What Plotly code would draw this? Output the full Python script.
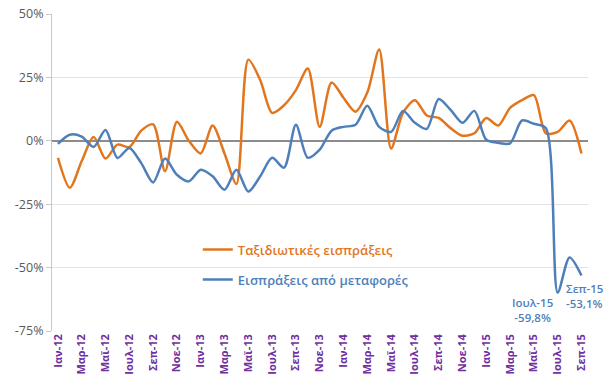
import plotly.graph_objects as go

# Monthly labels Jan-12 .. Sep-15
month_names = ["Ιαν", "Φεβ", "Μαρ", "Απρ", "Μαϊ", "Ιουν",
               "Ιουλ", "Αυγ", "Σεπ", "Οκτ", "Νοε", "Δεκ"]
months = [f"{m}-{y}" for y in (12, 13, 14, 15) for m in month_names][:45]
tick_labels = months[::2]

# Annual % change
travel_receipts = [
    -6.7, -18.5, -8.0, 1.5, -7.0, -1.5, -2.5, 4.0, 6.5, -12.0,
    7.5, 0.0, -5.0, 6.0, -5.0, -17.0, 32.0, 24.0, 11.0, 14.0,
    20.0, 28.5, 5.5, 23.0, 17.0, 11.5, 19.0, 36.0, -3.0, 11.0,
    16.0, 10.0, 9.0, 5.0, 2.0, 3.0, 9.0, 6.0, 13.0, 16.0,
    18.0, 3.0, 3.5, 8.0, -5.0,
]
transport_receipts = [
    -1.2, 2.4, 1.6, -2.4, 4.3, -6.8, -2.8, -8.8, -16.4, -7.0,
    -13.4, -16.0, -11.4, -14.0, -19.3, -11.4, -20.0, -14.0, -6.7, -10.6,
    6.3, -6.7, -3.5, 4.0, 5.5, 6.3, 13.8, 5.5, 3.5, 11.8,
    7.1, 4.7, 16.5, 12.2, 7.1, 11.8, 0.4, -0.8, -1.0, 8.0,
    6.7, 5.0, -59.8, -46.0, -53.1,
]

y_ticks = [50, 25, 0, -25, -50, -75]
y_tick_text = ["50%", "25%", "0%", "-25%", "-50%", "-75%"]

ORANGE = "#E2761F"
BLUE = "#4F7FBA"
FONT = "Open Sans"

fig = go.Figure()
fig.add_trace(go.Scatter(
    x=months, y=travel_receipts, mode="lines",
    line=dict(color=ORANGE, width=2.5, shape="spline", smoothing=0.8),
    name=f"<span style='color:{ORANGE}'>Ταξιδιωτικές εισπράξεις</span>",
    legend="legend", showlegend=True,
))
fig.add_trace(go.Scatter(
    x=months, y=transport_receipts, mode="lines",
    line=dict(color=BLUE, width=2.5, shape="spline", smoothing=0.8),
    name=f"<span style='color:{BLUE}'>Εισπράξεις από μεταφορές</span>",
    legend="legend2", showlegend=True,
))

# Data labels for the last points of the transport series
for idx, xs, ys, anchor in [(42, -25, -18, "center"), (44, -17, -21, "left")]:
    val = transport_receipts[idx]
    fig.add_annotation(
        x=months[idx], y=val, showarrow=False,
        text=f"{months[idx]}<br>{val:.1f}%".replace(".", ","),
        xanchor=anchor, yanchor="middle", xshift=xs, yshift=ys,
        align="center" if anchor == "center" else "left",
        font=dict(family=FONT, size=11.5, color=BLUE, weight=600),
    )

legend_common = dict(
    bgcolor="rgba(0,0,0,0)", borderwidth=0, itemwidth=30,
    font=dict(family=FONT, size=13, weight=600),
    xanchor="left", yanchor="middle", visible=True,
)

fig.update_layout(
    width=604, height=387,
    margin=dict(l=52, r=16, t=14, b=56),
    paper_bgcolor="white", plot_bgcolor="white",
    font=dict(family=FONT),
    showlegend=True,
    legend=dict(x=0.272, y=0.257, **legend_common),
    legend2=dict(x=0.272, y=0.162, **legend_common),
    xaxis=dict(
        type="category", tickvals=tick_labels, ticktext=tick_labels,
        tickangle=-90, showgrid=False, showline=False, ticks="",
        tickfont=dict(family=FONT, size=11, color="#7030A0", weight=700),
        range=[-0.5, 44.55], automargin=False,
    ),
    yaxis=dict(
        range=[-75, 50], tickvals=y_ticks, ticktext=y_tick_text,
        showgrid=True, gridcolor="#e3e3e3", gridwidth=1,
        zeroline=True, zerolinecolor="#8c8c8c", zerolinewidth=2,
        showline=True, linecolor="#c8c8c8", linewidth=1,
        ticks="outside", ticklen=5, tickcolor="#c8c8c8",
        tickfont=dict(family=FONT, size=12.5, color="#595959"),
        automargin=False,
    ),
)

fig.write_html("out.html")
